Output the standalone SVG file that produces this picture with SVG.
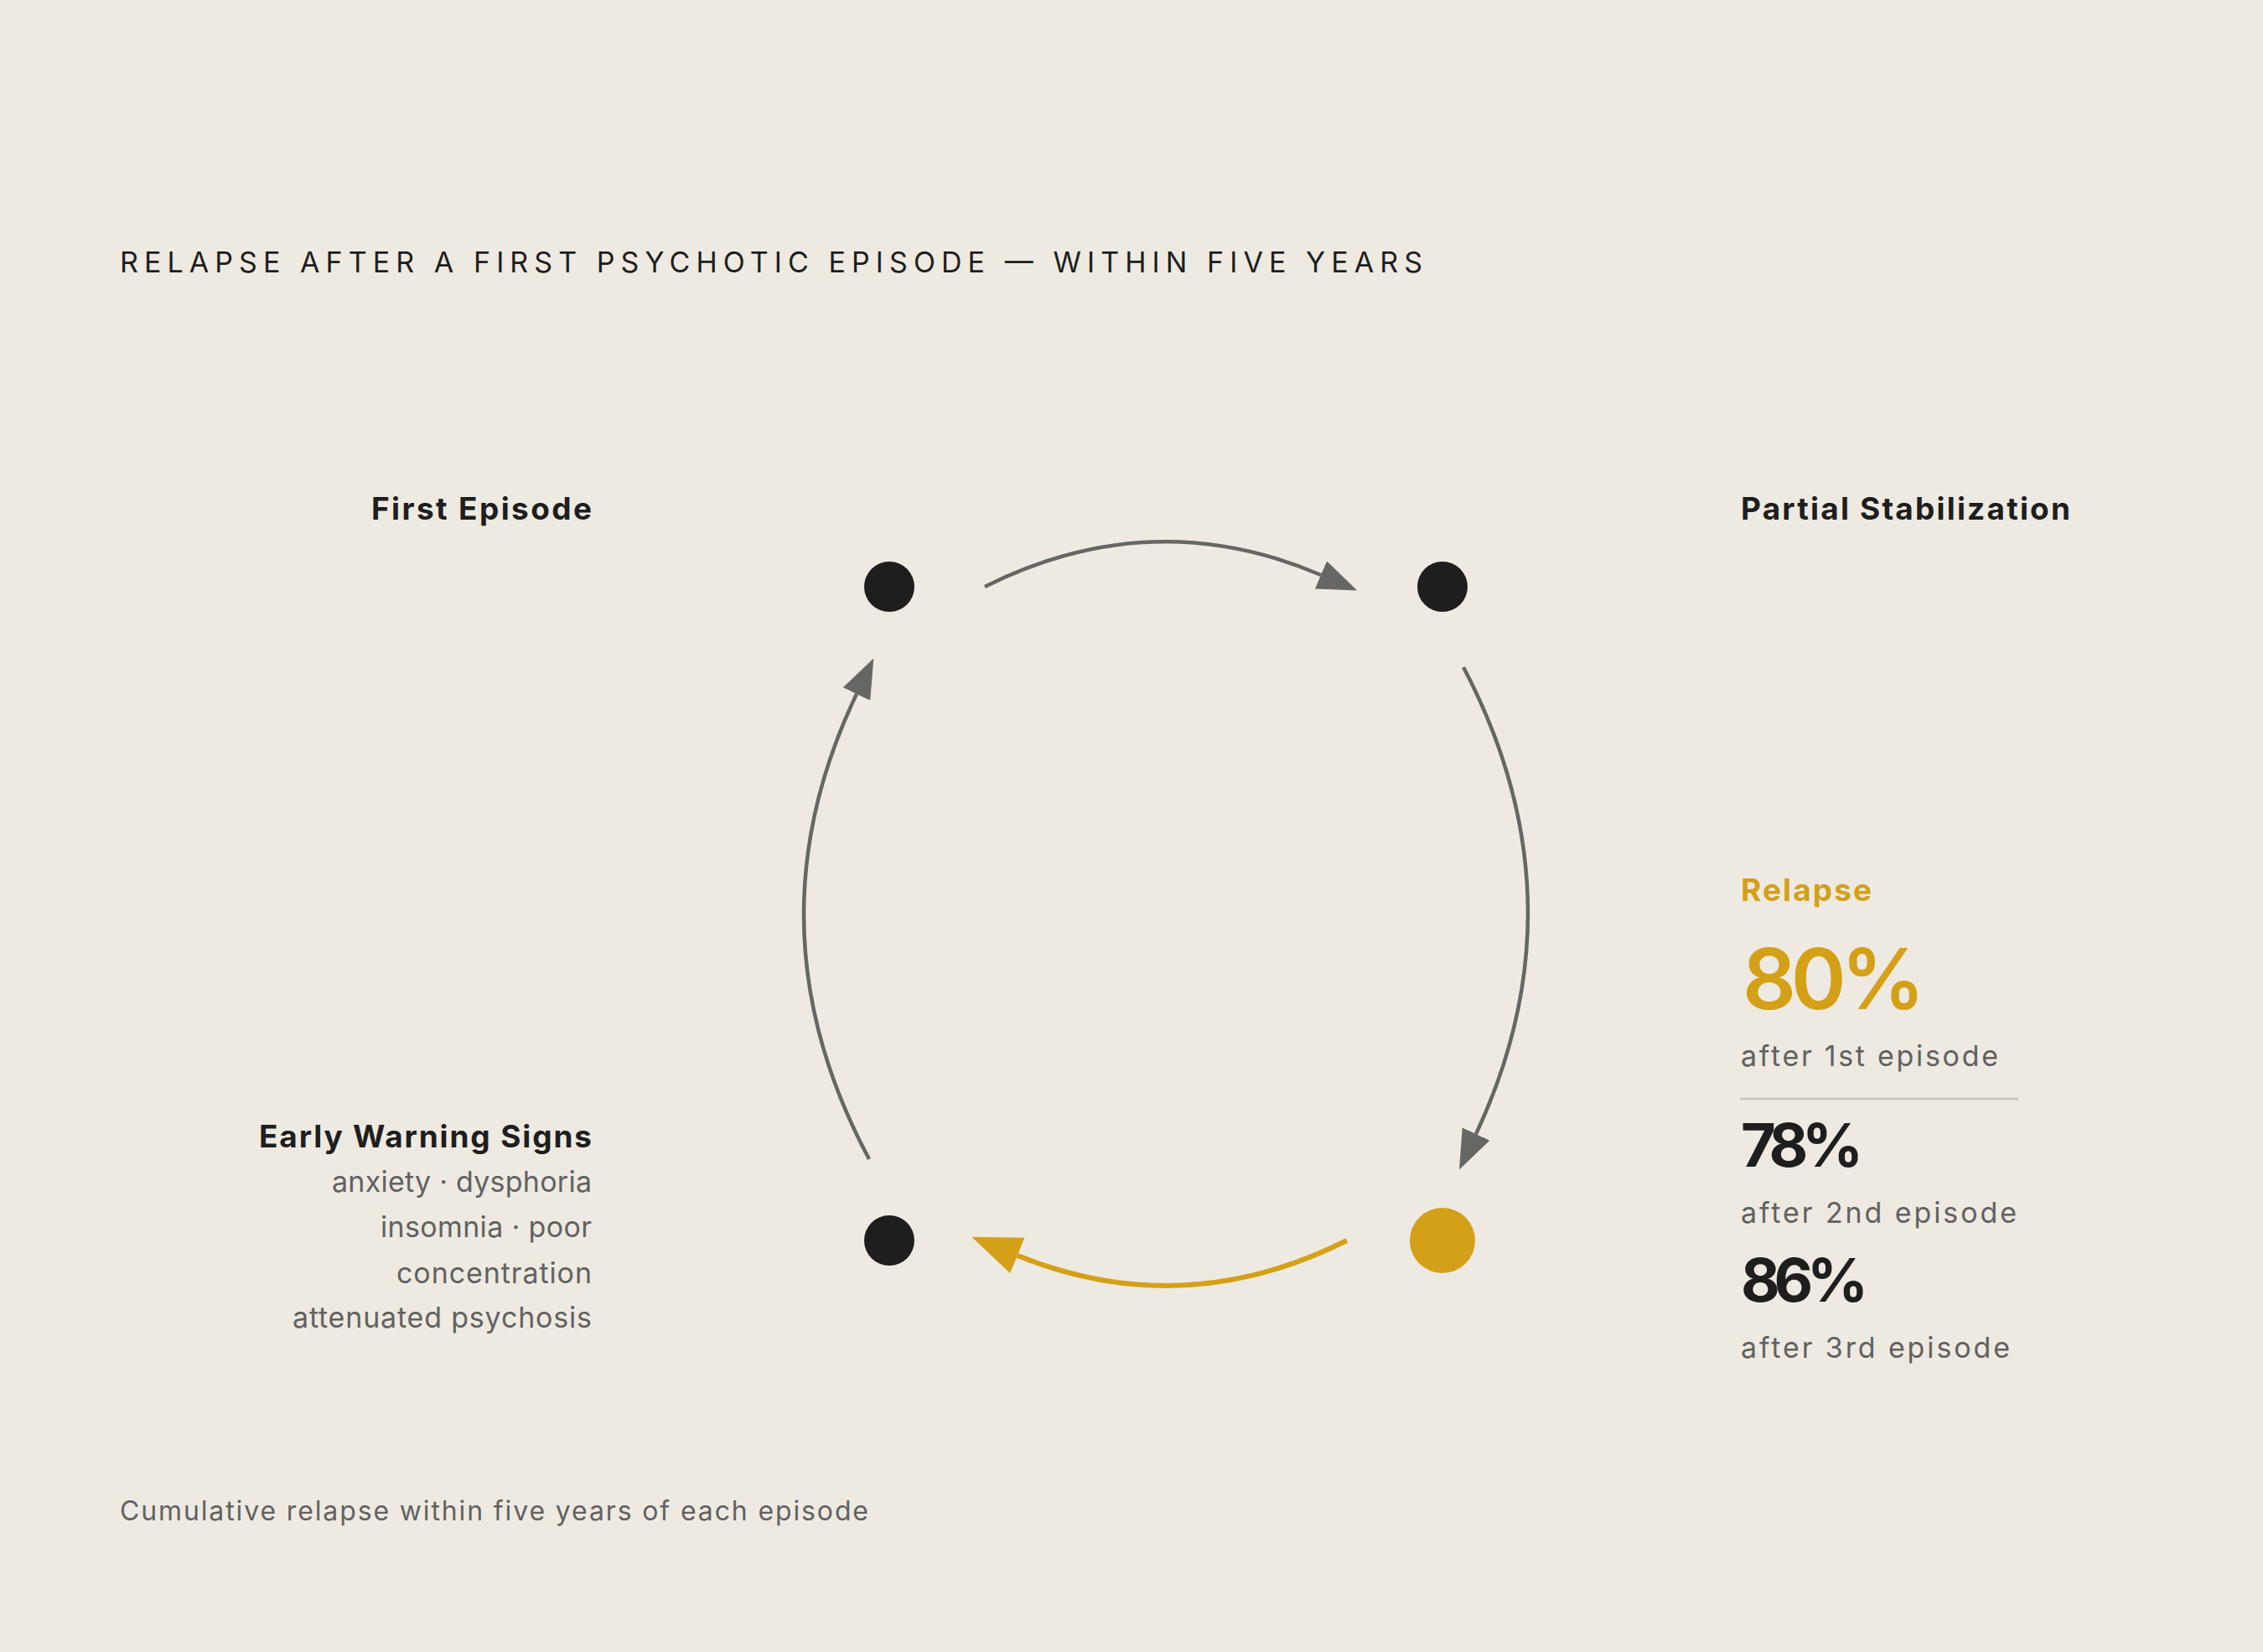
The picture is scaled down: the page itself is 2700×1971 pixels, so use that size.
<svg xmlns="http://www.w3.org/2000/svg" width="2700" height="1971" viewBox="0 0 2700 1971">
<style>
text{font-family:Inter,"DejaVu Sans",sans-serif}
.title{font-size:34px;fill:#1e1e1e;font-weight:400}
.lbl{font-size:37px;fill:#1e1e1e;font-weight:700}
.sub{font-size:34px;fill:#626160;font-weight:400}
.gold{fill:#d4a017}
.big{font-weight:600}
.dark{fill:#1e1e1e;font-weight:700}
.conn{fill:none;stroke:#666664;stroke-width:4.5}
.connG{fill:none;stroke:#d4a017;stroke-width:6}
</style>
<defs>
<marker id="ag" viewBox="0 0 47 36" markerWidth="47" markerHeight="36" refX="0" refY="18" orient="auto" markerUnits="userSpaceOnUse"><path d="M0,0 L47,18 L0,36 z" fill="#666664"/></marker>
<marker id="ay" viewBox="0 0 59 46" markerWidth="59" markerHeight="46" refX="0" refY="23" orient="auto" markerUnits="userSpaceOnUse"><path d="M0,0 L59,23 L0,46 z" fill="#d4a017"/></marker>
</defs>
<rect width="2700" height="1971" fill="#eeeae2"/>
<text class="title" x="143" y="325" textLength="1554" lengthAdjust="spacing">RELAPSE AFTER A FIRST PSYCHOTIC EPISODE — WITHIN FIVE YEARS</text>
<g id="connectors">
<path class="conn" d="M1175,700 Q1375,600 1576,686" marker-end="url(#ag)"/>
<path class="conn" d="M1746,796 Q1892,1074 1761,1353" marker-end="url(#ag)"/>
<path class="connG" d="M1607,1480 Q1411,1578 1214,1498" marker-end="url(#ay)"/>
<path class="conn" d="M1037,1383 Q889,1106 1022,828" marker-end="url(#ag)"/>
</g>
<g id="first-episode">
<circle cx="1061" cy="700" r="30" fill="#1e1e1e"/>
<text class="lbl" x="706" y="620" text-anchor="end" textLength="263" lengthAdjust="spacing">First Episode</text>
</g>
<g id="partial-stabilization">
<circle cx="1721" cy="700" r="30" fill="#1e1e1e"/>
<text class="lbl" x="2077" y="620" textLength="393" lengthAdjust="spacing">Partial Stabilization</text>
</g>
<g id="relapse">
<circle cx="1721" cy="1480" r="39" fill="#d4a017"/>
<text class="lbl gold" x="2077" y="1075" textLength="156" lengthAdjust="spacing">Relapse</text>
<text class="big gold" x="2079" y="1204" style="font-size:100px" textLength="218" lengthAdjust="spacing">80%</text>
<text class="sub" x="2077" y="1272" textLength="307" lengthAdjust="spacing">after 1st episode</text>
<line x1="2076" y1="1311" x2="2408" y2="1311" stroke="#c8c3bb" stroke-width="2.5"/>
<text class="dark" x="2077" y="1392" style="font-size:72px" textLength="146" lengthAdjust="spacing">78%</text>
<text class="sub" x="2077" y="1459" textLength="329" lengthAdjust="spacing">after 2nd episode</text>
<text class="dark" x="2077" y="1553" style="font-size:72px" textLength="152" lengthAdjust="spacing">86%</text>
<text class="sub" x="2077" y="1620" textLength="321" lengthAdjust="spacing">after 3rd episode</text>
</g>
<g id="early-warning-signs">
<circle cx="1061" cy="1480" r="30" fill="#1e1e1e"/>
<text class="lbl" x="706" y="1369" text-anchor="end" textLength="397" lengthAdjust="spacing">Early Warning Signs</text>
<text class="sub" x="706" y="1422" text-anchor="end" textLength="310" lengthAdjust="spacing">anxiety · dysphoria</text>
<text class="sub" x="706" y="1476" text-anchor="end" textLength="252" lengthAdjust="spacing">insomnia · poor</text>
<text class="sub" x="706" y="1531" text-anchor="end" textLength="233" lengthAdjust="spacing">concentration</text>
<text class="sub" x="706" y="1584" text-anchor="end" textLength="357" lengthAdjust="spacing">attenuated psychosis</text>
</g>
<text class="sub" x="143" y="1814" style="font-size:32px" textLength="893" lengthAdjust="spacing">Cumulative relapse within five years of each episode</text>
</svg>
